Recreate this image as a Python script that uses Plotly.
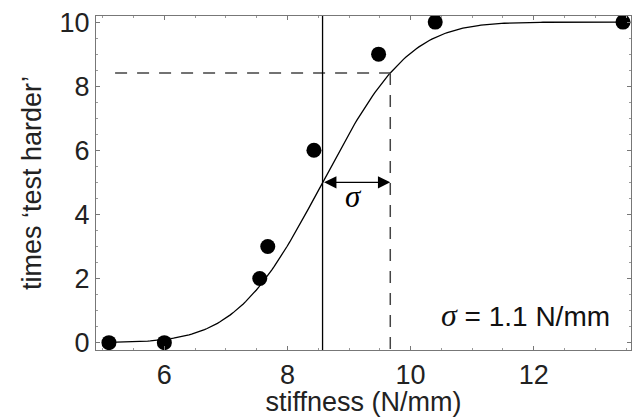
import math
import plotly.graph_objects as go

# Data
stiffness = [5.1, 6.0, 7.55, 7.68, 8.43, 9.48, 10.4, 13.45]
times_harder = [0, 0, 2, 3, 6, 9, 10, 10]

# Fitted cumulative-normal parameters (threshold and sigma)
mu = 8.57
sigma = 1.1
n_trials = 10

x_ticks = [6, 8, 10, 12]
y_ticks = [0, 2, 4, 6, 8, 10]

# Fitted model curve
n_curve = 200
x0, x1 = stiffness[0], stiffness[-1]
curve_x = [x0 + (x1 - x0) * i / (n_curve - 1) for i in range(n_curve)]
curve_y = [n_trials * 0.5 * (1 + math.erf((x - mu) / (sigma * math.sqrt(2)))) for x in curve_x]

y_sigma = n_trials * 0.5 * (1 + math.erf(1 / math.sqrt(2)))

fig = go.Figure()

fig.add_trace(go.Scatter(x=curve_x, y=curve_y, mode="lines",
                         line=dict(color="black", width=1.3), hoverinfo="skip"))
# horizontal dashed line at mu+sigma level
fig.add_trace(go.Scatter(x=[5.2, mu + sigma], y=[y_sigma, y_sigma], mode="lines",
                         line=dict(color="#444", width=1.5, dash="12px,10px")))
# vertical dashed line at mu+sigma
fig.add_trace(go.Scatter(x=[mu + sigma, mu + sigma], y=[y_sigma, -0.3], mode="lines",
                         line=dict(color="#444", width=1.5, dash="12px,10px")))
# vertical solid line at mu
fig.add_trace(go.Scatter(x=[mu, mu], y=[-0.3, 10.3], mode="lines",
                         line=dict(color="black", width=1.3)))
fig.add_trace(go.Scatter(x=stiffness, y=times_harder, mode="markers",
                         marker=dict(color="black", size=15)))

fig.add_annotation(x=mu + sigma, y=n_trials / 2, ax=mu, ay=n_trials / 2,
                   xref="x", yref="y", axref="x", ayref="y",
                   text="", showarrow=True, arrowhead=2, arrowside="end+start",
                   arrowsize=1.9, arrowwidth=1.3, arrowcolor="black")
fig.add_annotation(x=mu + sigma / 2 - 0.05, y=4.55, xref="x", yref="y", text="<i>σ</i>",
                   showarrow=False,
                   font=dict(family="Liberation Serif", size=31, color="black"))
fig.add_annotation(x=11.86, y=0.87, xref="x", yref="y",
                   text="<span style=\"font-family:'Liberation Serif';font-size:32px\"><i>σ</i></span> = 1.1 N/mm",
                   showarrow=False,
                   font=dict(family="Liberation Sans", size=28, color="#111"))

axis_common = dict(showline=True, linecolor="#777", linewidth=1.2, mirror="ticks",
                   ticks="inside", ticklen=4, tickcolor="#777", showgrid=False,
                   zeroline=False, tickfont=dict(family="Liberation Sans", size=27, color="#222"))

fig.update_xaxes(range=[4.89, 13.58], tickvals=x_ticks,
                 minor=dict(ticks="inside", dtick=0.5, ticklen=2, tickcolor="#999"),
                 title=dict(text="stiffness (N/mm)", standoff=3,
                            font=dict(family="Liberation Sans", size=27, color="#222")),
                 **axis_common)
fig.update_yaxes(range=[-0.23, 10.19], tickvals=y_ticks,
                 minor=dict(ticks="inside", dtick=0.5, ticklen=2, tickcolor="#999"),
                 title=dict(text="times ‘test harder’", standoff=10,
                            font=dict(family="Liberation Sans", size=27, color="#222")),
                 **axis_common)

fig.update_layout(width=632, height=417, showlegend=False,
                  margin=dict(l=96, r=1, t=16, b=67),
                  plot_bgcolor="white", paper_bgcolor="white")

fig.write_html("out.html")
